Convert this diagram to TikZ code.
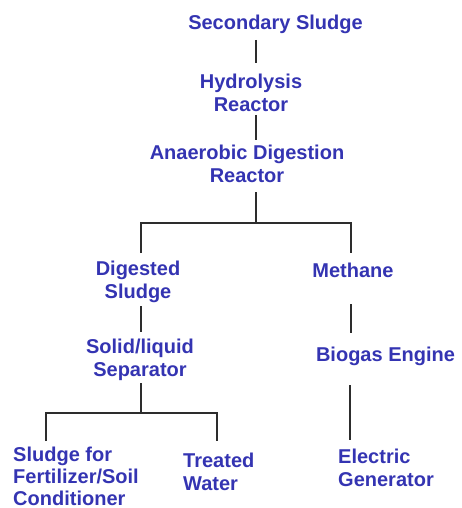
\documentclass[tikz,border=0pt]{standalone}
\usepackage{fontspec}
\setmainfont{Liberation Sans}
\definecolor{lblue}{RGB}{52,52,178}
\definecolor{lgray}{RGB}{45,45,45}
\begin{document}
\begin{tikzpicture}[x=1pt,y=-1pt,
  lbl/.style={inner sep=0pt, text=lblue, font=\bfseries\fontsize{20}{23}\selectfont, anchor=base},
  lblc/.style={lbl, align=center},
  lbll/.style={lbl, align=left, anchor=base west},
  conn/.style={draw=lgray, line width=2pt}]
\useasboundingbox (0,0) rectangle (461,508);
\node[lbl]  (ss)  at (275.5,30) {Secondary Sludge};
\node[lblc] (hr)  at (251,112) {Hydrolysis\\Reactor};
\node[lblc] (adr) at (247,182) {Anaerobic Digestion\\Reactor};
\node[lblc] (ds)  at (138,298) {Digested\\Sludge};
\node[lbl]  (me)  at (353,277) {Methane};
\node[lblc] (sls) at (140,376) {Solid/liquid\\Separator};
\node[lbl]  (be)  at (385.5,361) {Biogas Engine};
\node[lbll, font=\bfseries\fontsize{20}{22}\selectfont] (sf) at (13,505) {Sludge for\\Fertilizer/Soil\\Conditioner};
\node[lbll] (tw)  at (183,490) {Treated\\Water};
\node[lbll] (eg)  at (338,486) {Electric\\Generator};
% connector end points
\coordinate (a1) at (256,40);  \coordinate (a2) at (256,63);
\coordinate (b1) at (256,115); \coordinate (b2) at (256,140);
\coordinate (c1) at (256,192); \coordinate (c2) at (256,223);
\coordinate (cl) at (141,253); \coordinate (cr) at (351,253);
\coordinate (d1) at (141,306); \coordinate (d2) at (141,332);
\coordinate (e1) at (351,304); \coordinate (e2) at (351,333);
\coordinate (f1) at (141,383); \coordinate (f2) at (141,413);
\coordinate (fl) at (46,441);  \coordinate (fr) at (217,441);
\coordinate (g1) at (350,385); \coordinate (g2) at (350,440);
\draw[conn] (a1) -- (a2);
\draw[conn] (b1) -- (b2);
\draw[conn] (c1) -- (c2);
\draw[conn] (cl) |- (c2) -| (cr);
\draw[conn] (d1) -- (d2);
\draw[conn] (e1) -- (e2);
\draw[conn] (f1) -- (f2);
\draw[conn] (fl) |- (f2) -| (fr);
\draw[conn] (g1) -- (g2);
\end{tikzpicture}
\end{document}
